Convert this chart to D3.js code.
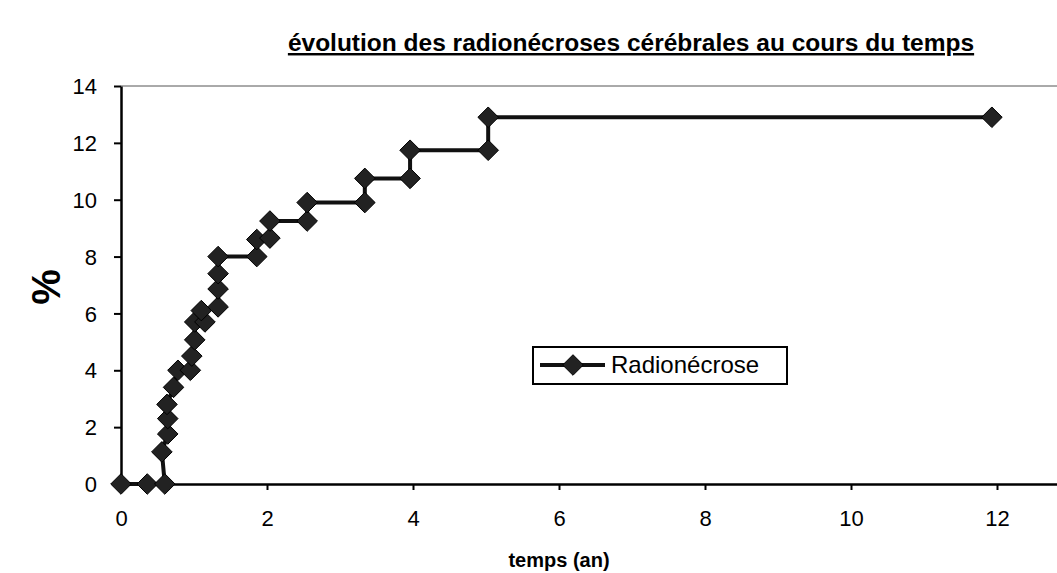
<!DOCTYPE html>
<html>
<head>
<meta charset="utf-8">
<script src="https://cdn.jsdelivr.net/npm/d3@7"></script>
<style>
  body { margin: 0; background: #fff; }
  text { font-family: "Liberation Sans", Arial, sans-serif; fill: #000; }
</style>
</head>
<body>
<div id="chart"></div>
<script>
// data (step curve, each corner is marked)
const seriesName = 'Radionécrose';
const tempsAn = [0, 0.36, 0.6, 0.56, 0.64, 0.64, 0.63, 0.72, 0.78, 0.95, 0.97, 1.01, 1.01, 1.15, 1.1, 1.33, 1.33, 1.33, 1.33, 1.86, 1.86, 2.04, 2.04, 2.55, 2.55, 3.34, 3.34, 3.96, 3.96, 5.03, 5.03, 11.93];
const pourcent = [0, 0, 0, 1.13, 1.76, 2.3, 2.8, 3.4, 4.0, 4.0, 4.5, 5.07, 5.7, 5.7, 6.1, 6.23, 6.86, 7.4, 8.0, 8.0, 8.6, 8.65, 9.25, 9.25, 9.9, 9.9, 10.75, 10.75, 11.74, 11.74, 12.9, 12.9];
const xTicks = [0, 2, 4, 6, 8, 10, 12];
const yTicks = [0, 2, 4, 6, 8, 10, 12, 14];

const width = 1057, height = 573;
const svg = d3.select('#chart').append('svg')
    .attr('width', width)
    .attr('height', height);

let x = d3.scaleLinear().domain([0, 13]).range([121, 1070]);
let y = d3.scaleLinear().domain([0, 14]).range([484, 86]);

const points = tempsAn.map((t, i) => ({x: t, y: pourcent[i]}));

// title
svg.append('text')
    .attr('x', 631)
    .attr('y', 51)
    .attr('text-anchor', 'middle')
    .style('font-size', '24.5px')
    .style('font-weight', 'bold')
    .style('text-decoration', 'underline')
    .text('évolution des radionécroses cérébrales au cours du temps');

// top border of plot area
svg.append('line')
    .attr('x1', x(0)).attr('x2', width)
    .attr('y1', y(14)).attr('y2', y(14))
    .attr('stroke', '#555')
    .attr('stroke-width', 1);

// axes
const xAxis = svg.append('g')
    .attr('transform', `translate(0,${y(0)})`)
    .call(d3.axisBottom(x).tickValues(xTicks).tickSize(6).tickPadding(20).tickSizeOuter(0));
const yAxis = svg.append('g')
    .attr('transform', `translate(${x(0)},0)`)
    .call(d3.axisLeft(y).tickValues(yTicks).tickSize(7).tickPadding(17).tickSizeOuter(0));

[xAxis, yAxis].forEach(a => {
    a.select('.domain').attr('stroke', '#000').attr('stroke-width', 2.5);
    a.selectAll('.tick line').attr('stroke', '#000').attr('stroke-width', 2);
    a.selectAll('.tick text').style('font-size', '22px');
});
yAxis.selectAll('.tick text').attr('dy', '0.35em');

// axis titles
svg.append('text')
    .attr('x', x(6))
    .attr('y', 567)
    .attr('text-anchor', 'middle')
    .style('font-size', '20px')
    .style('font-weight', 'bold')
    .text('temps (an)');

svg.append('text')
    .attr('transform', `translate(60,${y(7) + 2}) rotate(-90)`)
    .attr('text-anchor', 'middle')
    .style('font-size', '40px')
    .style('font-weight', 'bold')
    .text('%');

// the curve
let line = d3.line()
    .x(d => x(d.x))
    .y(d => y(d.y));

svg.append('path')
    .datum(points)
    .attr('d', line)
    .attr('fill', 'none')
    .attr('stroke', '#111')
    .attr('stroke-width', 4);

const diamond = d3.symbol().type(d3.symbolDiamond2).size(270);

svg.selectAll('.pt')
    .data(points)
    .enter().append('path')
    .attr('class', 'pt')
    .attr('transform', d => `translate(${x(d.x)},${y(d.y)})`)
    .attr('d', diamond)
    .attr('fill', '#222')
    .attr('stroke', '#000')
    .attr('stroke-width', 1);

// legend
const legend = svg.append('g');
legend.append('rect')
    .attr('x', 533).attr('y', 347)
    .attr('width', 254).attr('height', 37)
    .attr('fill', '#fff')
    .attr('stroke', '#000')
    .attr('stroke-width', 2);
legend.append('line')
    .attr('x1', 540).attr('x2', 605)
    .attr('y1', 365).attr('y2', 365)
    .attr('stroke', '#111')
    .attr('stroke-width', 4);
legend.append('path')
    .attr('transform', 'translate(573,365)')
    .attr('d', diamond)
    .attr('fill', '#222')
    .attr('stroke', '#000');
legend.append('text')
    .attr('x', 611)
    .attr('y', 373)
    .style('font-size', '24px')
    .text(seriesName);
</script>
</body>
</html>
